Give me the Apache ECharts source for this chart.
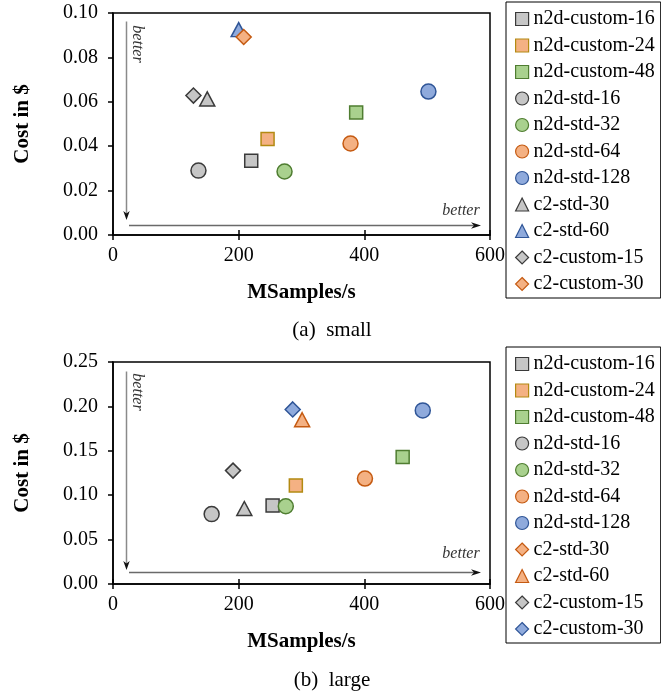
<!DOCTYPE html>
<html>
<head>
<meta charset="utf-8">
<script src="https://cdn.jsdelivr.net/npm/echarts/dist/echarts.min.js"></script>
<style>
  html, body { margin: 0; padding: 0; background: #fff; }
  #chart { width: 661px; height: 692px; }
</style>
</head>
<body>
<div id="chart"></div>
<script>
// ---------- data ----------
const names = ['n2d-custom-16','n2d-custom-24','n2d-custom-48','n2d-std-16','n2d-std-32','n2d-std-64','n2d-std-128','c2-std-30','c2-std-60','c2-custom-15','c2-custom-30'];
const shapes = ['rect','rect','rect','circle','circle','circle','circle','triangle','triangle','diamond','diamond'];

// (a) small
const smallX = [220, 246, 387, 136, 273, 378, 502, 150, 200, 128, 208];
const smallY = [0.0335, 0.0432, 0.0552, 0.0290, 0.0286, 0.0412, 0.0646, 0.0613, 0.0925, 0.0628, 0.0892];
const smallColors = ['gray','orangeSq','green','gray','green','orange','blue','gray','blue','gray','orange'];

// (b) large
const largeX = [254, 291, 461, 157, 275, 401, 493, 209, 301, 191, 286];
const largeY = [0.0884, 0.1110, 0.1430, 0.0787, 0.0876, 0.1187, 0.1955, 0.0850, 0.1850, 0.1277, 0.1966];
const largeColors = ['gray','orangeSq','green','gray','green','orange','blue','gray','orange','gray','blue'];
const largeLegendShapes = ['rect','rect','rect','circle','circle','circle','circle','diamond','triangle','diamond','diamond'];
const largeLegendColors = ['gray','orangeSq','green','gray','green','orange','blue','orange','orange','gray','blue'];

const xTicks = [0, 200, 400, 600];
const smallYMax = 0.10, smallYStep = 0.02;
const largeYMax = 0.25, largeYStep = 0.05;
const captions = ['(a)  small', '(b)  large'];

// ---------- styles ----------
const FONT = "'Liberation Serif', 'Times New Roman', serif";
const palette = {
  gray:     { fill: '#c6c6c6', border: '#3a3a3a' },
  orange:   { fill: '#f4b183', border: '#c55a11' },
  orangeSq: { fill: '#f4b183', border: '#b38a12' },
  green:    { fill: '#a9d18e', border: '#4f7d31' },
  blue:     { fill: '#8faadc', border: '#2f5597' }
};
const symSize = { rect: 13, circle: 15, triangle: [15, 14], diamond: 15 };

const grids = [
  { left: 113, top: 13, width: 377, height: 222 },
  { left: 113, top: 362, width: 377, height: 222 }
];

function makeSeries(gi, xs, ys, colors) {
  return names.map((n, i) => ({
    name: n,
    type: 'scatter',
    xAxisIndex: gi * 2,
    yAxisIndex: gi,
    symbol: shapes[i],
    symbolSize: symSize[shapes[i]],
    itemStyle: { color: palette[colors[i]].fill, borderColor: palette[colors[i]].border, borderWidth: 1.5, opacity: 1 },
    emphasis: { disabled: true },
    data: [[xs[i], ys[i]]],
    z: 3
  }));
}

function makeLegend(top, legShapes, legColors) {
  return {
    orient: 'vertical',
    left: 506, top: top,
    padding: [7, 6, 4, 9],
    itemGap: 6.5,
    itemWidth: 13, itemHeight: 13,
    itemTextGap: 3,
    borderColor: '#000', borderWidth: 1,
    selectedMode: false,
    textStyle: { fontFamily: FONT, fontSize: 20, color: '#000', lineHeight: 20 },
    data: names.map((n, i) => ({
      name: n,
      icon: legShapes[i],
      itemStyle: { color: palette[legColors[i]].fill, borderColor: palette[legColors[i]].border, borderWidth: 1.2 }
    }))
  };
}

function xAxesFor(gi) {
  const base = {
    gridIndex: gi, type: 'value', min: 0, max: 600, interval: 200, position: 'bottom',
    splitLine: { show: false }
  };
  return [
    Object.assign({}, base, {
      name: 'MSamples/s', nameLocation: 'middle', nameGap: 47,
      nameTextStyle: { fontFamily: FONT, fontSize: 21, fontWeight: 'bold', color: '#000' },
      axisLine: { show: true, lineStyle: { color: '#000', width: 1.5 } },
      axisTick: { show: true, inside: false, length: 5, lineStyle: { color: '#000', width: 1.5 } },
      axisLabel: { fontFamily: FONT, fontSize: 20, color: '#000', margin: 11, formatter: v => String(v) }
    }),
    Object.assign({}, base, {
      axisLine: { show: false },
      axisTick: { show: true, inside: true, length: 5, lineStyle: { color: '#000', width: 1.5 } },
      axisLabel: { show: false }
    })
  ];
}

function yAxisFor(gi, max, step) {
  return {
    gridIndex: gi, type: 'value', min: 0, max: max, interval: step,
    name: 'Cost in $', nameLocation: 'middle', nameGap: 80,
    nameTextStyle: { fontFamily: FONT, fontSize: 21, fontWeight: 'bold', color: '#000' },
    splitLine: { show: false },
    axisLine: { show: true, lineStyle: { color: '#000', width: 1.5 } },
    axisTick: { show: true, inside: false, length: 5, lineStyle: { color: '#000', width: 1.5 } },
    axisLabel: { fontFamily: FONT, fontSize: 20, color: '#000', margin: 15, formatter: v => v.toFixed(2) }
  };
}

// decorations: "better" arrows, captions
const arrowOffsets = [
  { vTop: 8.5, vBot: 15, hY: 9.5, vTxtY: 31, hTxtY: 24.5 },
  { vTop: 9.5, vBot: 14, hY: 11.5, vTxtY: 30, hTxtY: 30.5 }
];
const captionY = [330, 680];

function decorations() {
  const els = [];
  grids.forEach((g, gi) => {
    const o = arrowOffsets[gi];
    const vx = g.left + 13.5;
    const vy1 = g.top + o.vTop, vy2 = g.top + g.height - o.vBot;
    els.push({ type: 'line', shape: { x1: vx, y1: vy1, x2: vx, y2: vy2 - 4 }, style: { stroke: '#8a8a8a', lineWidth: 1.5 }, z: 1 });
    els.push({ type: 'polygon', shape: { points: [[vx, vy2], [vx - 3.2, vy2 - 9], [vx, vy2 - 6.5], [vx + 3.2, vy2 - 9]] }, style: { fill: '#111' }, z: 1 });
    const hy = g.top + g.height - o.hY;
    const hx1 = g.left + 16, hx2 = g.left + g.width - 9;
    els.push({ type: 'line', shape: { x1: hx1, y1: hy, x2: hx2 - 4, y2: hy }, style: { stroke: '#6a6a6a', lineWidth: 1.5 }, z: 1 });
    els.push({ type: 'polygon', shape: { points: [[hx2, hy], [hx2 - 10, hy - 3.3], [hx2 - 7, hy], [hx2 - 10, hy + 3.3]] }, style: { fill: '#111' }, z: 1 });
    els.push({ type: 'text', x: g.left + 24, y: g.top + o.vTxtY, rotation: -Math.PI / 2,
      style: { text: 'better', fontFamily: FONT, fontStyle: 'italic', fontSize: 16, fill: '#333', align: 'center', verticalAlign: 'middle' }, z: 1 });
    els.push({ type: 'text', x: g.left + 348, y: g.top + g.height - o.hTxtY,
      style: { text: 'better', fontFamily: FONT, fontStyle: 'italic', fontSize: 16, fill: '#333', align: 'center', verticalAlign: 'middle' }, z: 1 });
    els.push({ type: 'text', x: 332, y: captionY[gi],
      style: { text: captions[gi], fontFamily: FONT, fontSize: 21, fill: '#000', align: 'center', verticalAlign: 'middle' } });
  });
  return els;
}

const chart = echarts.init(document.getElementById('chart'), null, { renderer: 'canvas' });
chart.setOption({
  animation: false,
  backgroundColor: '#fff',
  textStyle: { fontFamily: FONT },
  grid: grids.map(g => Object.assign({ show: true, borderColor: '#000', borderWidth: 1.5, backgroundColor: 'transparent', containLabel: false }, g)),
  legend: [
    makeLegend(2, shapes, smallColors),
    makeLegend(347, largeLegendShapes, largeLegendColors)
  ],
  xAxis: xAxesFor(0).concat(xAxesFor(1)),
  yAxis: [yAxisFor(0, smallYMax, smallYStep), yAxisFor(1, largeYMax, largeYStep)],
  series: makeSeries(0, smallX, smallY, smallColors).concat(makeSeries(1, largeX, largeY, largeColors)),
  graphic: decorations()
});
</script>
</body>
</html>
